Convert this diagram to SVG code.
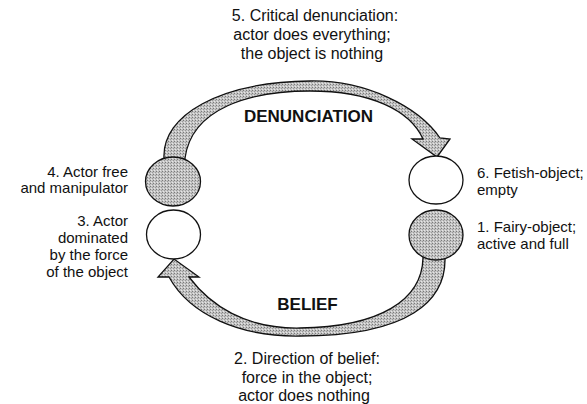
<svg xmlns="http://www.w3.org/2000/svg" width="587" height="404" viewBox="0 0 587 404">
<defs>
<pattern id="stip" width="3" height="3" patternUnits="userSpaceOnUse">
<rect width="3" height="3" fill="#c4c4c4"/>
<rect x="0" y="0" width="1" height="1" fill="#7a7a7a"/>
<rect x="2" y="1" width="1" height="1" fill="#9a9a9a"/>
<rect x="1" y="2" width="1" height="1" fill="#e6e6e6"/>
</pattern>
<style>
.band{fill:url(#stip);stroke:#111;stroke-width:1.3;stroke-linejoin:miter}
.node{stroke:#111;stroke-width:1.3}
.full{fill:url(#stip)}
.empty{fill:#fff}
text{font-family:"Liberation Sans",Arial,sans-serif;fill:#111}
.cap{font-size:16px;text-anchor:middle}
.side{font-size:15px}
.l{text-anchor:end}
.big{font-size:17px;font-weight:bold;text-anchor:middle}
</style>
</defs>
<rect width="587" height="404" fill="#fff"/>
<g id="connectors">
<path class="band" d="M164,165 L164,158 C162,115 220,82 310,81 C365,80 418,106 440,138 L450,139 L437,157 L412,139 L423,139 C410,110 370,91 310,91 C250,91 192,108 185,158 L185,165 Z"/>
<path class="band" d="M445,252 L445,258 C446,300 410,336 300,336 C240,337 190,315 169,277 L158,277 L174,259 L199,277 L189,277 C210,305 245,329 300,328 C380,327 422,300 423,258 L423,252 Z"/>
<text class="big" x="308.5" y="122">DENUNCIATION</text>
<text class="big" x="307.5" y="310">BELIEF</text>
</g>
<g id="node4">
<ellipse class="node full" cx="173" cy="181.5" rx="27.5" ry="24.5"/>
<text class="side l" x="128" y="177">4. Actor free</text>
<text class="side l" x="128" y="193">and manipulator</text>
</g>
<g id="node3">
<ellipse class="node empty" cx="173.5" cy="234.5" rx="27" ry="24.5"/>
<text class="side l" x="128" y="226">3. Actor</text>
<text class="side l" x="128" y="243">dominated</text>
<text class="side l" x="128" y="260">by the force</text>
<text class="side l" x="128" y="277">of the object</text>
</g>
<g id="node6">
<ellipse class="node empty" cx="436" cy="180" rx="27" ry="24"/>
<text class="side" x="477" y="178">6. Fetish-object;</text>
<text class="side" x="477" y="195">empty</text>
</g>
<g id="node1">
<ellipse class="node full" cx="436" cy="235" rx="27" ry="25"/>
<text class="side" x="477" y="232">1. Fairy-object;</text>
<text class="side" x="477" y="249">active and full</text>
</g>
<g id="label5">
<text class="cap" x="315" y="21">5. Critical denunciation:</text>
<text class="cap" x="312" y="40">actor does everything;</text>
<text class="cap" x="312" y="59">the object is nothing</text>
</g>
<g id="label2">
<text class="cap" x="307" y="364">2. Direction of belief:</text>
<text class="cap" x="307" y="383">force in the object;</text>
<text class="cap" x="304" y="401">actor does nothing</text>
</g>
</svg>
